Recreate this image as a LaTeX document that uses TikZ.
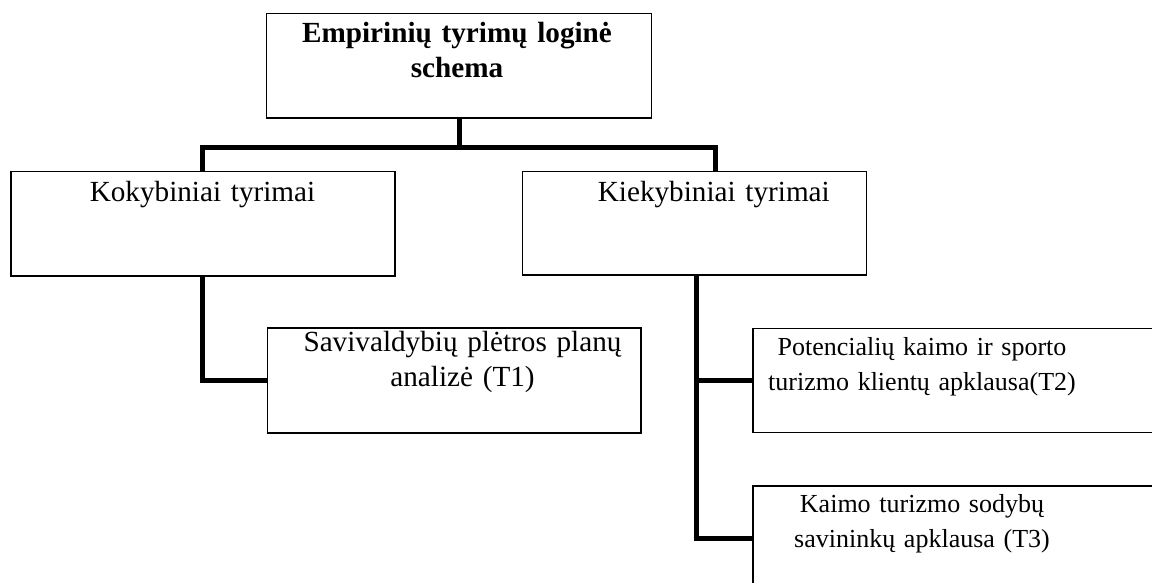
\documentclass[tikz,border=0pt]{standalone}
\usepackage{fontspec}
\setmainfont{Liberation Serif}
\usetikzlibrary{calc}
\tikzset{
  box/.style={draw, line width=1.6pt, rectangle, inner sep=0pt, anchor=north west},
  txt/.style={inner sep=0pt, text width=440pt, align=center, anchor=base,
    font=\fontsize{29.2}{35}\selectfont},
  smalltxt/.style={txt, font=\fontsize{26}{35}\selectfont},
  conn/.style={draw, line width=5pt, line join=miter},
}
\begin{document}
\begin{tikzpicture}[x=1pt,y=-1pt]
\useasboundingbox (0,0) rectangle (1152,583);
\clip (0,0) rectangle (1152,583);
\fill[white] (0,0) rectangle (1152,583);

% boxes
\node[box, minimum width=385pt, minimum height=104.6pt] (top) at (265.7,12.7) {};
\node[box, minimum width=384pt, minimum height=104.3pt] (kok) at (10,170.7) {};
\node[box, minimum width=344pt, minimum height=103.6pt] (kie) at (521.7,170.7) {};
\node[box, minimum width=373.3pt, minimum height=105pt] (sav) at (266.7,327.3) {};
\node[box, minimum width=440pt, minimum height=104pt] (pot) at (752.3,327.7) {};
\node[box, minimum width=440pt, minimum height=106pt] (kai) at (752.3,485) {};

% texts
\node[txt, font=\fontsize{29.2}{34.7}\selectfont\bfseries] (ttop) at (457,42.7) {Empirinių tyrimų loginė\\schema};
\node[txt] (tkok) at (202.5,201.5) {Kokybiniai tyrimai};
\node[txt] (tkie) at (713.8,201.5) {Kiekybiniai tyrimai};
\node[txt] (tsav) at (462.5,351.7) {Savivaldybių plėtros planų\\analizė (T1)};
\node[smalltxt] (tpot) at (922,355) {Potencialių kaimo ir sporto\\turizmo klientų apklausa(T2)};
\node[smalltxt] (tkai) at (922,512.7) {Kaimo turizmo sodybų\\savininkų apklausa (T3)};

% connectors
\coordinate (j0) at ($(top.south)+(0,29)$);
\coordinate (kieTop) at ($(kie.north west)+(193.3,0)$);
\coordinate (kieBot) at ($(kie.south west)+(175,0)$);
\draw[conn] (top.south) -- (j0);
\draw[conn] (kok.north) |- (j0) -| (kieTop);
\draw[conn] (kok.south) |- (sav.west);
\draw[conn] (kieBot) |- (kai.west);
\draw[conn] (kieBot |- pot.west) -- (pot.west);
\end{tikzpicture}
\end{document}
